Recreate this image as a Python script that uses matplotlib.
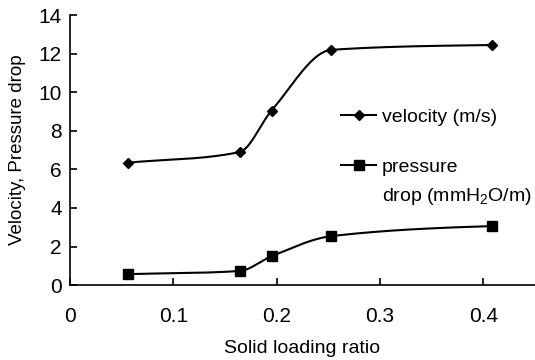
import numpy as np
import matplotlib
matplotlib.use("Agg")
import matplotlib.pyplot as plt

plt.rcParams['font.family'] = ['Liberation Sans', 'DejaVu Sans']
plt.rcParams['mathtext.fontset'] = 'custom'
plt.rcParams['mathtext.rm'] = 'Liberation Sans'
plt.rcParams['mathtext.it'] = 'Liberation Sans'

# data
loading = [0.056, 0.164, 0.195, 0.253, 0.408]
velocity = [6.35, 6.9, 9.05, 12.2, 12.45]
pressure = [0.57, 0.73, 1.5, 2.54, 3.06]
xticks = [0, 0.1, 0.2, 0.3, 0.4]
yticks = [0, 2, 4, 6, 8, 10, 12, 14]


def smooth(x, y, n=60):
    # cubic hermite through the points (pchip-like tangents, no overshoot)
    x = np.asarray(x, float)
    y = np.asarray(y, float)
    h = np.diff(x)
    d = np.diff(y) / h
    m = np.empty_like(y)
    for k in range(1, len(x) - 1):
        if d[k - 1] * d[k] <= 0:
            m[k] = 0
        else:
            w1 = 2 * h[k] + h[k - 1]
            w2 = h[k] + 2 * h[k - 1]
            m[k] = (w1 + w2) / (w1 / d[k - 1] + w2 / d[k])
    m[0] = d[0]
    m[-1] = d[-1] * 0.5
    xs, ys = [], []
    for i in range(len(x) - 1):
        t = np.linspace(0, 1, n)
        h00 = 2 * t**3 - 3 * t**2 + 1
        h10 = t**3 - 2 * t**2 + t
        h01 = -2 * t**3 + 3 * t**2
        h11 = t**3 - t**2
        xs.append(x[i] + t * h[i])
        ys.append(h00 * y[i] + h10 * h[i] * m[i] + h01 * y[i + 1] + h11 * h[i] * m[i + 1])
    return np.concatenate(xs), np.concatenate(ys)


fig = plt.figure(figsize=(5.35, 3.6), dpi=100)
ax = fig.add_axes([0.131, 0.208, 0.869, 0.75])

sx, sy = smooth(loading, velocity)
ax.plot(sx, sy, color='black', lw=1.5)
ax.plot(loading, velocity, 'D', color='black', ms=5.5, ls='none')
sx, sy = smooth(loading, pressure)
ax.plot(sx, sy, color='black', lw=1.5)
ax.plot(loading, pressure, 's', color='black', ms=7, ls='none')

h1, = ax.plot([], [], 'D-', color='black', ms=5.5, lw=1.5)
h2, = ax.plot([], [], 's-', color='black', ms=7, lw=1.5)
leg = ax.legend([h1, h2], ['velocity (m/s)', 'pressure'], frameon=False,
                loc='upper left', bbox_to_anchor=(0.583, 0.655), fontsize=14,
                borderpad=0, borderaxespad=0,
                handlelength=1.8, handletextpad=0.3, labelspacing=1.65)
ax.text(0.671, 0.33, 'drop (mmH$_2$O/m)', transform=ax.transAxes,
        fontsize=14, va='center', ha='left')

ax.set_xlim(0, 0.45)
ax.set_ylim(0, 14)
ax.set_xticks(xticks)
ax.set_xticklabels(['0', '0.1', '0.2', '0.3', '0.4'])
ax.set_yticks(yticks)
ax.spines['top'].set_visible(False)
ax.spines['right'].set_visible(False)
ax.spines['left'].set_linewidth(1.2)
ax.spines['bottom'].set_linewidth(1.2)
ax.tick_params(direction='in', length=5, width=1.2, labelsize=15)
ax.tick_params(axis='x', pad=16)
ax.tick_params(axis='y', pad=6)

ax.set_xlabel('Solid loading ratio', fontsize=14, labelpad=10)
ax.set_ylabel('Velocity, Pressure drop', fontsize=13.5, labelpad=9)

plt.savefig('out.png', dpi=100)
